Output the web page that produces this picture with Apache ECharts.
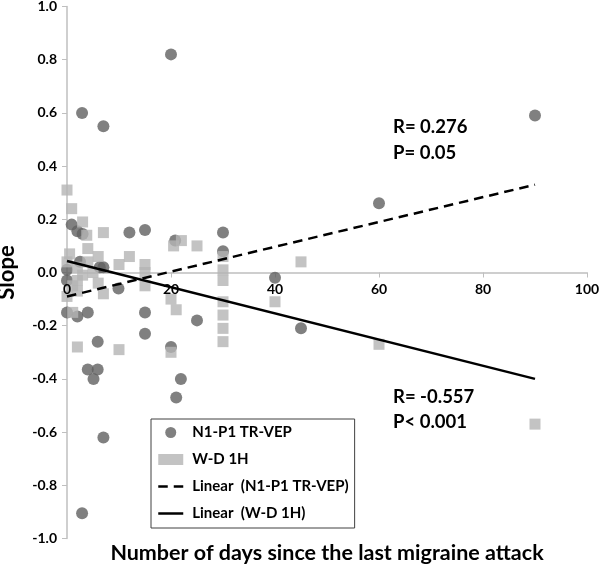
<!DOCTYPE html>
<html>
<head>
<meta charset="utf-8">
<script src="https://cdn.jsdelivr.net/npm/echarts@6/dist/echarts.min.js"></script>
<style>
  html, body { margin: 0; padding: 0; background: #fff; }
  #chart { width: 600px; height: 569px; }
</style>
</head>
<body>
<div id="chart"></div>
<script>
// values
const n1p1Points = [
  [0, 0.01], [0, -0.03], [0, -0.15], [0.9, 0.18], [2, 0.155], [3, 0.145],
  [2, -0.165], [2.5, 0.04], [4, -0.15], [2.9, 0.6], [2.9, -0.905], [4, -0.365],
  [5.1, -0.40], [5.9, -0.26], [5.9, -0.365], [7, 0.55], [7, -0.62], [7, 0.02],
  [6.3, 0.02], [9.9, -0.06], [12, 0.15], [15, 0.16], [15, -0.15], [15, -0.23],
  [20, 0.82], [20.8, 0.12], [20, -0.28], [21, -0.47], [21.9, -0.40], [25, -0.18],
  [30, 0.15], [30, 0.08], [40, -0.02], [45, -0.21], [60, 0.26], [90, 0.59]
]
const wd1hPoints = [
  [0, 0.31], [0.9, 0.24], [3, 0.19], [3.8, 0.14], [7, 0.15], [4, 0.09],
  [0.5, 0.07], [6, 0.06], [0, 0.04], [4, 0.04], [2, 0.02], [10, 0.03],
  [12, 0.06], [15, 0.03], [15, 0.0], [15, -0.05], [3, -0.01], [5, 0.0],
  [2, -0.03], [1.1, -0.05], [2, -0.07], [6, -0.04], [7, -0.08], [0, -0.09],
  [1.1, -0.15], [2, -0.28], [10, -0.29], [20.5, 0.1], [22, 0.12], [25, 0.1],
  [20, -0.10], [21, -0.14], [20, -0.30], [30, 0.06], [30, 0.01], [30, -0.03],
  [30, -0.11], [30, -0.16], [30, -0.21], [30, -0.26], [40, -0.11], [45, 0.04],
  [60, -0.27], [90, -0.57]
]
// fitted lines, ends read at x = 0 and x = 90
const n1p1Trend = [[0, -0.09], [90, 0.33]]
const wd1hTrend = [[0, 0.043], [90, -0.40]]

const seriesNames = ['N1-P1 TR-VEP', 'W-D 1H', 'Linear  (N1-P1 TR-VEP)', 'Linear  (W-D 1H)']
const statsN1 = ['R= 0.276', 'P= 0.05']
const statsWD = ['R= -0.557', 'P< 0.001']

const FONT = 'Lato'
const axisGrey = '#bfbfbf'
const dash = [9.5, 6]
const plotHeight = 532 // grid height, used to lift the x axis onto y = 0

const xBase = {
  type: 'value',
  min: 0,
  max: 100,
  interval: 20,
  position: 'bottom',
  offset: -plotHeight / 2,
  splitLine: { show: false }
}

const chart = echarts.init(document.getElementById('chart'))

chart.setOption({
  animation: false,
  backgroundColor: '#fff',
  grid: { left: 67, right: 13, top: 6.5, bottom: 30.5, outerBoundsMode: 'none', containLabel: false },
  xAxis: [
    // line and ticks under the markers
    {
      ...xBase,
      axisLine: { onZero: false, lineStyle: { color: axisGrey, width: 1.5 } },
      axisTick: { show: true, length: 5, lineStyle: { color: axisGrey } },
      axisLabel: { show: false }
    },
    // tick labels drawn above the markers, as in the original
    {
      ...xBase,
      z: 10,
      axisLine: { show: false, onZero: false },
      axisTick: { show: false },
      axisLabel: {
        color: '#000', fontFamily: FONT, fontWeight: 'bold', fontSize: 14, margin: 10,
        showMinLabel: true, showMaxLabel: true, hideOverlap: false
      }
    }
  ],
  yAxis: {
    type: 'value',
    min: -1,
    max: 1,
    interval: 0.2,
    name: 'Slope',
    nameLocation: 'middle',
    nameRotate: 90,
    nameGap: 49,
    nameTextStyle: { color: '#000', fontFamily: FONT, fontWeight: 'bold', fontSize: 22 },
    splitLine: { show: false },
    axisLine: { show: true, onZero: false, lineStyle: { color: axisGrey, width: 1.5 } },
    axisTick: { show: true, length: 5, lineStyle: { color: axisGrey } },
    axisLabel: {
      color: '#000', fontFamily: FONT, fontWeight: 'bold', fontSize: 14, margin: 10,
      formatter: v => v.toFixed(1)
    }
  },
  legend: {
    orient: 'vertical',
    left: 151,
    top: 419,
    padding: [6, 6, 7, 6],
    itemGap: 12,
    itemWidth: 25,
    itemHeight: 11,
    borderColor: '#404040',
    borderWidth: 1,
    backgroundColor: '#fff',
    textStyle: {
      color: '#000', fontFamily: FONT, fontWeight: 'bold', fontSize: 15,
      lineHeight: 14, padding: [0, 0, 0, 4]
    },
    data: [
      { name: seriesNames[0] },
      { name: seriesNames[1] },
      { name: seriesNames[2], itemStyle: { color: 'transparent', borderWidth: 0 }, lineStyle: { type: dash, width: 2.5 } },
      { name: seriesNames[3], itemStyle: { color: 'transparent', borderWidth: 0 }, lineStyle: { width: 2.5 } }
    ]
  },
  series: [
    {
      name: seriesNames[0],
      type: 'scatter',
      symbol: 'circle',
      symbolSize: 12,
      itemStyle: { color: '#606060' },
      data: n1p1Points
    },
    {
      name: seriesNames[1],
      type: 'scatter',
      symbol: 'rect',
      symbolSize: 11,
      itemStyle: { color: '#b4b4b4' },
      data: wd1hPoints
    },
    {
      name: seriesNames[2],
      type: 'line',
      symbol: 'none',
      lineStyle: { color: '#000', width: 2.5, type: dash },
      itemStyle: { color: '#000' },
      data: n1p1Trend
    },
    {
      name: seriesNames[3],
      type: 'line',
      symbol: 'none',
      lineStyle: { color: '#000', width: 2.5 },
      itemStyle: { color: '#000' },
      data: wd1hTrend
    }
  ],
  graphic: [
    {
      type: 'text',
      x: 327, y: 553,
      style: {
        text: 'Number of days since the last migraine attack',
        fill: '#000', font: 'bold 21.5px ' + FONT,
        textAlign: 'center', textVerticalAlign: 'middle'
      }
    },
    {
      type: 'text',
      x: 393, y: 140,
      style: {
        text: statsN1.join('\n'), fill: '#000', font: 'bold 18.5px ' + FONT,
        lineHeight: 26, textAlign: 'left', textVerticalAlign: 'middle'
      }
    },
    {
      type: 'text',
      x: 393, y: 409.5,
      style: {
        text: statsWD.join('\n'), fill: '#000', font: 'bold 18.5px ' + FONT,
        lineHeight: 25, textAlign: 'left', textVerticalAlign: 'middle'
      }
    }
  ]
})
</script>
</body>
</html>
